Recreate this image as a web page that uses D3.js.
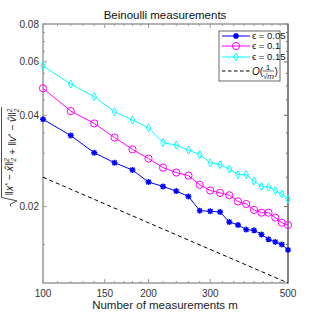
<!DOCTYPE html>
<html>
<head>
<meta charset="utf-8">
<script src="https://cdn.jsdelivr.net/npm/d3@7"></script>
<style>
    body { margin: 0; background: #fff; }
    svg text { font-family: 'Liberation Sans', Arial, sans-serif; }
</style>
</head>
<body>
<svg id="chart" width="319" height="319"></svg>
<script>
// DATA
const measurements = [100, 120, 140, 160, 180, 200, 220, 240, 260, 280, 300,
    320, 340, 360, 380, 400, 420, 440, 460, 480, 500];
const eps005 = [0.0388, 0.0343, 0.0301, 0.0279, 0.0264, 0.0241, 0.0233, 0.0225, 0.0216, 0.0194, 0.0193,
    0.0192, 0.0178, 0.0174, 0.0168, 0.0167, 0.0162, 0.0156, 0.0153, 0.0150, 0.0144];
const eps01 = [0.0491, 0.0413, 0.0376, 0.0338, 0.0309, 0.0288, 0.0269, 0.0259, 0.0253, 0.0236, 0.0226,
    0.0222, 0.0218, 0.0208, 0.0204, 0.0195, 0.0191, 0.0191, 0.0184, 0.0177, 0.0174];
const eps015 = [0.0582, 0.0507, 0.0461, 0.0411, 0.0386, 0.0364, 0.0325, 0.0319, 0.0307, 0.0297, 0.0279,
    0.0275, 0.0266, 0.0255, 0.0255, 0.0243, 0.0233, 0.0232, 0.0226, 0.0220, 0.0212];
const refX = [100, 500];
const refY = [0.025, 0.0112];

const xTicks = [100, 150, 200, 300, 500];
const xMinor = [110, 120, 130, 140, 160, 170, 180, 190, 220, 240, 260, 280,
    325, 350, 375, 400, 425, 450, 475];
const yTicks = [0.02, 0.04, 0.06, 0.08];
const yMinor = [0.015, 0.025, 0.03, 0.035, 0.045, 0.05, 0.055, 0.065, 0.07, 0.075];
const yDomain = [0.0112, 0.08];

const series = [
    { label: 'ϵ = 0.05', values: eps005, color: '#0000ff', marker: 'star' },
    { label: 'ϵ = 0.1', values: eps01, color: '#ff00ff', marker: 'circle' },
    { label: 'ϵ = 0.15', values: eps015, color: '#00ffff', marker: 'diamond' }
];

const svg = d3.select('#chart');
const margin = { top: 24, right: 31, bottom: 36, left: 43 };
const width = 319 - margin.left - margin.right;
const height = 319 - margin.top - margin.bottom;

const g = svg.append('g').attr('transform', `translate(${margin.left},${margin.top})`);

const x = d3.scaleLog().domain([100, 500]).range([0, width]);
const y = d3.scaleLog().domain(yDomain).range([height, 0]);

const axisColor = '#9a9a9a';
const textColor = '#333';
const serif = "'Liberation Serif', serif";

// TICKS (inward, mirrored on top/right)
function tickSet(values, len) {
    values.forEach(v => {
        const px = x(v);
        g.append('line').attr('x1', px).attr('x2', px).attr('y1', height).attr('y2', height - len)
            .attr('stroke', axisColor);
        g.append('line').attr('x1', px).attr('x2', px).attr('y1', 0).attr('y2', len)
            .attr('stroke', axisColor);
    });
}
function yTickSet(values, len) {
    values.forEach(v => {
        const py = y(v);
        g.append('line').attr('x1', 0).attr('x2', len).attr('y1', py).attr('y2', py)
            .attr('stroke', axisColor);
        g.append('line').attr('x1', width).attr('x2', width - len).attr('y1', py).attr('y2', py)
            .attr('stroke', '#666');
    });
}
tickSet(xTicks, 4);
tickSet(xMinor, 2);
yTickSet(yTicks, 4);
yTickSet(yMinor, 2);

// AXIS BOX
g.append('rect')
    .attr('width', width)
    .attr('height', height)
    .attr('fill', 'none')
    .attr('stroke', axisColor)
    .attr('stroke-width', 1.5);
g.append('line').attr('x1', width).attr('x2', width).attr('y1', 0).attr('y2', height)
    .attr('stroke', '#666').attr('stroke-width', 1.2);

// TICK LABELS
g.selectAll('.xlab').data(xTicks).enter().append('text')
    .attr('x', d => x(d))
    .attr('y', height + 14)
    .attr('text-anchor', 'middle')
    .attr('font-size', 10)
    .attr('fill', textColor)
    .text(d => d);
g.selectAll('.ylab').data(yTicks).enter().append('text')
    .attr('x', -4)
    .attr('y', d => y(d) + 3.5)
    .attr('text-anchor', 'end')
    .attr('font-size', 10)
    .attr('fill', textColor)
    .text(d => d3.format('.2f')(d));

// TITLE + X LABEL
svg.append('text').attr('x', 165).attr('y', 19).attr('text-anchor', 'middle')
    .attr('font-size', 11.5).attr('fill', '#111').text('Beinoulli measurements');
svg.append('text').attr('x', 165).attr('y', 309).attr('text-anchor', 'middle')
    .attr('font-size', 11.5).attr('fill', '#222').text('Number of measurements m');

// Y LABEL (rotated)
const yl = svg.append('g').attr('transform', 'translate(13,152) rotate(-90)');
const ylText = yl.append('text')
    .attr('text-anchor', 'middle')
    .attr('font-family', serif)
    .attr('font-style', 'italic')
    .attr('font-size', 10.5)
    .attr('fill', '#222');
function normPart(t, v) {
    t.append('tspan').text('‖' + v);
    t.append('tspan').attr('dy', -3.5).attr('font-size', 6.5).text('*');
    t.append('tspan').attr('dy', 3.5).text(' − ' + v + '̂‖');
    t.append('tspan').attr('dy', -4.5).attr('font-size', 6.5).text('2');
    t.append('tspan').attr('dx', -3.5).attr('dy', 7.5).attr('font-size', 6.5).text('2');
    t.append('tspan').attr('dy', -3).text('');
}
normPart(ylText, 'x');
ylText.append('tspan').text(' + ');
normPart(ylText, 'v');
const bb = ylText.node().getBBox();
yl.append('path')
    .attr('d', `M${bb.x - 11},${-2} L${bb.x - 9},${-3} L${bb.x - 5.5},${4} L${bb.x - 2},${bb.y - 1} L${bb.x + bb.width + 1},${bb.y - 1}`)
    .attr('fill', 'none')
    .attr('stroke', '#222')
    .attr('stroke-width', 0.8);

// MARKERS
function drawMarker(sel, type, color) {
    if (type === 'circle') {
        sel.append('circle').attr('r', 3.6).attr('fill', 'none').attr('stroke', color).attr('stroke-width', 1);
    } else if (type === 'diamond') {
        sel.append('path').attr('d', d3.symbol(d3.symbolDiamond, 18)()).attr('fill', 'none')
            .attr('stroke', color).attr('stroke-width', 1);
    } else {
        sel.append('path').attr('d', 'M-3,0L3,0M0,-3L0,3M-2.2,-2.2L2.2,2.2M-2.2,2.2L2.2,-2.2')
            .attr('stroke', color).attr('stroke-width', 1.4);
        sel.append('circle').attr('r', 1.4).attr('fill', color);
    }
}

// LINES
const line = d3.line().x(d => x(d[0])).y(d => y(d[1]));
series.forEach(s => {
    const pts = measurements.map((m, i) => [m, s.values[i]]);
    g.append('path').datum(pts).attr('d', line)
        .attr('fill', 'none').attr('stroke', s.color).attr('stroke-width', 1);
    g.selectAll(null).data(pts).enter().append('g')
        .attr('transform', d => `translate(${x(d[0])},${y(d[1])})`)
        .each(function () { drawMarker(d3.select(this), s.marker, s.color); });
});

// REFERENCE O(1/sqrt(m))
g.append('path').datum(refX.map((m, i) => [m, refY[i]])).attr('d', line)
    .attr('fill', 'none').attr('stroke', '#000').attr('stroke-width', 1)
    .attr('stroke-dasharray', '4,3');

// LEGEND
const lg = svg.append('g').attr('transform', 'translate(219,31)');
lg.append('rect').attr('width', 61).attr('height', 50)
    .attr('fill', '#fff').attr('stroke', '#444').attr('stroke-width', 0.8);
const rows = [5, 15, 26];
series.forEach((s, i) => {
    const r = lg.append('g').attr('transform', `translate(0,${rows[i]})`);
    r.append('line').attr('x1', 3).attr('x2', 31).attr('stroke', s.color).attr('stroke-width', 1);
    drawMarker(r.append('g').attr('transform', 'translate(17,0)'), s.marker, s.color);
    r.append('text').attr('x', 33).attr('y', 3)
        .attr('font-family', serif).attr('font-size', 9.5).attr('fill', '#111')
        .text(s.label);
});
const rr = lg.append('g').attr('transform', 'translate(0,40)');
rr.append('line').attr('x1', 3).attr('x2', 31).attr('stroke', '#000').attr('stroke-dasharray', '3.5,2.5');
const rt = rr.append('text').attr('y', 3.5)
    .attr('font-family', serif).attr('font-size', 10).attr('fill', '#111');
rt.append('tspan').attr('x', 33).attr('font-style', 'italic').text('O');
rt.append('tspan').text('(');
rr.append('text').attr('x', 49).attr('y', -1.5).attr('text-anchor', 'middle')
    .attr('font-family', serif).attr('font-size', 8).attr('fill', '#111').text('1');
rr.append('line').attr('x1', 43.5).attr('x2', 55).attr('y1', 0).attr('y2', 0).attr('stroke', '#111').attr('stroke-width', 0.6);
rr.append('text').attr('x', 49.5).attr('y', 7.5).attr('text-anchor', 'middle')
    .attr('font-family', serif).attr('font-size', 8).attr('font-style', 'italic').attr('fill', '#111').text('√m');
rr.append('text').attr('x', 55.5).attr('y', 3.5)
    .attr('font-family', serif).attr('font-size', 10).attr('fill', '#111').text(')');
</script>
</body>
</html>
